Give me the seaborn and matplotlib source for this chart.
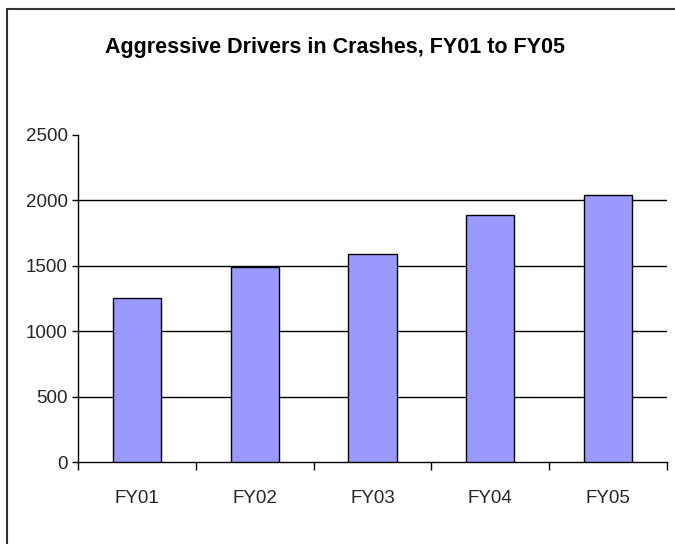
import matplotlib
matplotlib.use("Agg")
import matplotlib.pyplot as plt
import matplotlib.patches as mpatches
from matplotlib.ticker import FixedLocator, NullFormatter
import seaborn as sns
import pandas as pd

categories = ["FY01", "FY02", "FY03", "FY04", "FY05"]
values = [1251, 1488, 1592, 1885, 2040]
y_ticks = [0, 500, 1000, 1500, 2000, 2500]
title = "Aggressive Drivers in Crashes, FY01 to FY05"

sns.set_theme(style="white")
plt.rcParams['font.family'] = ['Liberation Sans', 'DejaVu Sans']

fig = plt.figure(figsize=(6.75, 5.44), dpi=100)
ax = fig.add_axes([78.3/675, 1-462.3/544, (666.7-78.3)/675, (462.3-134.7)/544])

df = pd.DataFrame({"cat": categories, "val": values})
sns.barplot(data=df, x="cat", y="val", color="#9999FF", saturation=1,
            edgecolor="black", linewidth=1.0, width=0.41, ax=ax, zorder=3)

ax.set_ylim(0, 2500)
ax.set_xlim(-0.5, len(categories) - 0.5)
ax.set_yticks(y_ticks)
ax.set_yticklabels([str(v) for v in y_ticks], fontsize=13.5)
for v in y_ticks[1:-1]:
    ax.axhline(v, color="black", lw=1.0, zorder=1)

ax.set_xticks(range(len(categories)))
ax.set_xticklabels(categories, fontsize=13.5)
ax.tick_params(axis="x", which="major", length=0, pad=20)
ax.xaxis.set_minor_locator(FixedLocator([i - 0.5 for i in range(len(categories) + 1)]))
ax.xaxis.set_minor_formatter(NullFormatter())
ax.tick_params(axis="x", which="minor", length=5.5, width=1, color="black", direction="out", bottom=True)
ax.tick_params(axis="y", length=4.5, width=1, color="black", direction="out", left=True, pad=3)

ax.set_xlabel("")
ax.set_ylabel("")
for s in ["top", "right"]:
    ax.spines[s].set_visible(False)
for s in ["left", "bottom"]:
    ax.spines[s].set_color("black")
    ax.spines[s].set_linewidth(1.0)

fig.text(335/675, 1 - 47/544, title, ha="center", va="center",
         fontsize=15.5, fontweight="bold", color="black")

border = mpatches.Rectangle((7/675, -0.1), 1.2, 1 - 9/544 + 0.1, transform=fig.transFigure,
                            fill=False, edgecolor="#333333", linewidth=1.5)
fig.patches.append(border)

fig.savefig("out.png", dpi=100)
